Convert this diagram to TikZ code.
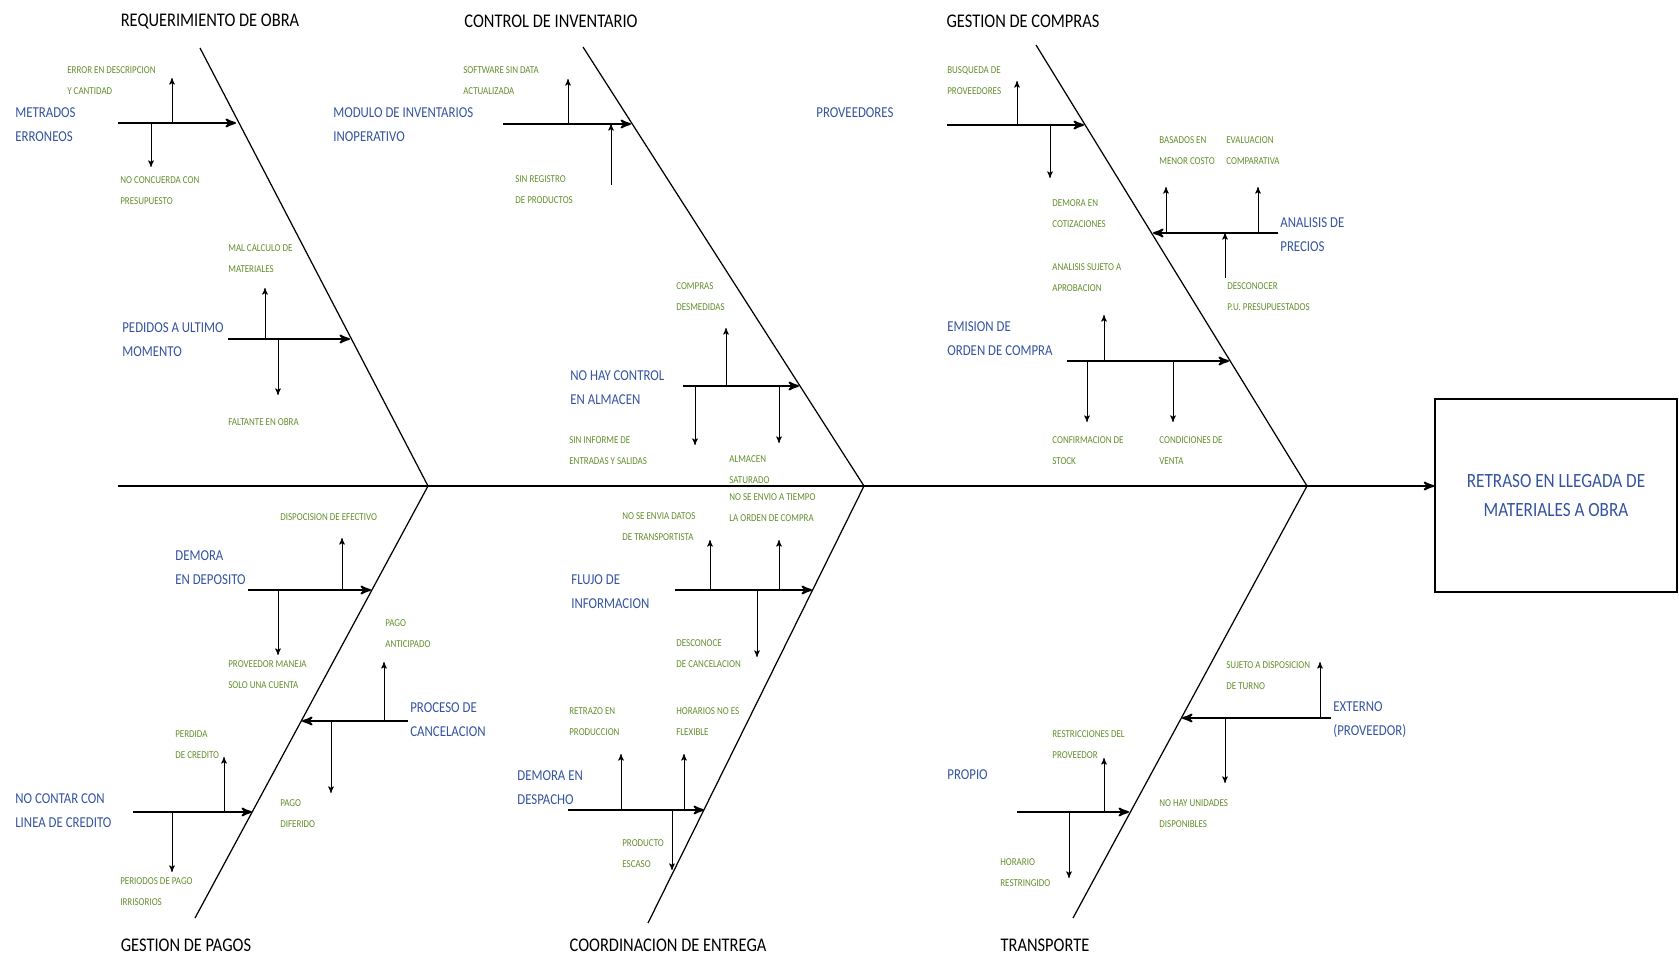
\documentclass[tikz,border=0pt]{standalone}
\usepackage{fontspec}
\setmainfont[FakeStretch=0.85]{Carlito}
\usetikzlibrary{arrows}
\definecolor{azulcausa}{RGB}{52,84,160}
\definecolor{verdesub}{RGB}{98,142,44}
\tikzset{
	etiq/.style = {inner sep=0pt, align=left, anchor=west},
	cat_t/.style = {etiq, anchor=center, align=center, black,
		font=\fontsize{11}{13}\selectfont},% categoria
	causa_t/.style = {etiq, azulcausa, font=\fontsize{8.6}{13.6}\selectfont},% causa, azul
	sub_t/.style = {etiq, verdesub, font=\fontsize{6}{12}\selectfont},% subcausa, verde
	caja/.style = {draw=black, line width=0.9pt, text=azulcausa, align=center,
		minimum width=4.84cm, minimum height=3.86cm,
		font=\fontsize{11.5}{17}\selectfont},% efecto
	espina/.style = {-, line width=0.7pt},
	rama/.style = {->, line width=1.1pt},
	flecha/.style = {->, line width=0.45pt}
}
% flecha de subcausa: nombre, x, y de la punta, rama
\newcommand{\subc}[4]{\coordinate (#1) at (#2,#3);
	\draw[flecha] (#1 |- #4) -- (#1);}
% flecha que sube hasta la rama
\newcommand{\subin}[4]{\coordinate (#1) at (#2,#3);
	\draw[flecha] (#1) -- (#1 |- #4);}

\begin{document}
\begin{tikzpicture}[x=0.02cm, y=-0.02cm, >=stealth']
	\useasboundingbox (0,0) rectangle (1679,959);
	% efecto
	\node[caja] (caja) at (1556,495.5) {RETRASO EN LLEGADA DE\\MATERIALES A OBRA};
	\coordinate (esp) at (118,486);
	\draw[rama] (esp) -- (esp -| caja.west);
	% espinas
	\coordinate (v1) at (428,486);
	\coordinate (v2) at (864,486);
	\coordinate (v3) at (1307,486);
	\coordinate (rq) at (200,48);
	\coordinate (ci) at (583,47);
	\coordinate (gc) at (1036,45);
	\coordinate (gp) at (195,918);
	\coordinate (ce) at (648,923);
	\coordinate (tr) at (1073,918);
	\draw[espina] (rq) -- (v1) -- (gp);
	\draw[espina] (ci) -- (v2) -- (ce);
	\draw[espina] (gc) -- (v3) -- (tr);
	\node[cat_t] (c_rq) at (210,22) {REQUERIMIENTO DE OBRA};
	\node[cat_t] (c_ci) at (551,21) {CONTROL DE INVENTARIO};
	\node[cat_t] (c_gc) at (1023,21) {GESTION DE COMPRAS};
	\node[cat_t] (c_gp) at (186,945) {GESTION DE PAGOS};
	\node[cat_t] (c_ce) at (668,945) {COORDINACION DE ENTREGA};
	\node[cat_t] (c_tr) at (1045,945) {TRANSPORTE};

	% requerimiento de obra
	\coordinate (r1) at (118,123); \coordinate (r1b) at (236,123);
	\draw[rama] (r1) -- (r1b);
	\node[causa_t] (t_r1) at (15,125) {METRADOS\\ERRONEOS};
	\subc{r1u}{172}{78}{r1} \subc{r1d}{151}{167}{r1}
	\node[sub_t] (s_r1u) at (67,80.5) {ERROR EN DESCRIPCION\\Y CANTIDAD};
	\node[sub_t] (s_r1d) at (120,190.5) {NO CONCUERDA CON\\PRESUPUESTO};
	\coordinate (r2) at (228,339); \coordinate (r2b) at (350,339);
	\draw[rama] (r2) -- (r2b);
	\node[causa_t] (t_r2) at (122,339.5) {PEDIDOS A ULTIMO\\MOMENTO};
	\subc{r2u}{265}{288}{r2} \subc{r2d}{278}{395}{r2}
	\node[sub_t] (s_r2u) at (228,258.5) {MAL CALCULO DE\\MATERIALES};
	\node[sub_t] (s_r2d) at (228,422) {FALTANTE EN OBRA};

	% control de inventario
	\coordinate (c1) at (503,124); \coordinate (c1b) at (631,124);
	\draw[rama] (c1) -- (c1b);
	\node[causa_t] (t_c1) at (333,125) {MODULO DE INVENTARIOS\\INOPERATIVO};
	\subc{c1u}{568}{79}{c1} \subin{c1d}{611}{185}{c1}
	\node[sub_t] (s_c1u) at (463,80.5) {SOFTWARE SIN DATA\\ACTUALIZADA};
	\node[sub_t] (s_c1d) at (515,190) {SIN REGISTRO\\DE PRODUCTOS};
	\coordinate (c2) at (683,386); \coordinate (c2b) at (799,386);
	\draw[rama] (c2) -- (c2b);
	\node[causa_t] (t_c2) at (570,388) {NO HAY CONTROL\\EN ALMACEN};
	\subc{c2u}{726}{328}{c2} \subc{c2d}{695}{445}{c2} \subc{c2e}{779}{443}{c2}
	\node[sub_t] (s_c2u) at (676,296.5) {COMPRAS\\DESMEDIDAS};
	\node[sub_t] (s_c2d) at (569,450.5) {SIN INFORME DE\\ENTRADAS Y SALIDAS};
	\node[sub_t] (s_c2e) at (729,470) {ALMACEN\\SATURADO};

	% gestion de compras
	\coordinate (g1) at (947,125); \coordinate (g1b) at (1084,125);
	\draw[rama] (g1) -- (g1b);
	\node[causa_t] (t_g1) at (816,113) {PROVEEDORES};
	\subc{g1u}{1017}{81}{g1} \subc{g1d}{1050}{178}{g1}
	\node[sub_t] (s_g1u) at (947,81) {BUSQUEDA DE\\PROVEEDORES};
	\node[sub_t] (s_g1d) at (1052,214) {DEMORA EN\\COTIZACIONES};
	\coordinate (g2) at (1278,233); \coordinate (g2b) at (1153,233);
	\draw[rama] (g2) -- (g2b);
	\node[causa_t] (t_g2) at (1280,235) {ANALISIS DE\\PRECIOS};
	\subc{g2u}{1166}{187}{g2} \subc{g2v}{1258}{187}{g2} \subin{g2d}{1225}{278}{g2}
	\node[sub_t] (s_g2u) at (1159,150.5) {BASADOS EN\\MENOR COSTO};
	\node[sub_t] (s_g2v) at (1226,150.5) {EVALUACION\\COMPARATIVA};
	\node[sub_t] (s_g2d) at (1227,297) {DESCONOCER\\P.U. PRESUPUESTADOS};
	\coordinate (g3) at (1067,361); \coordinate (g3b) at (1229,361);
	\draw[rama] (g3) -- (g3b);
	\node[causa_t] (t_g3) at (947,339) {EMISION DE\\ORDEN DE COMPRA};
	\subc{g3u}{1104}{315}{g3} \subc{g3d}{1087}{422}{g3} \subc{g3e}{1173}{422}{g3}
	\node[sub_t] (s_g3u) at (1052,278) {ANALISIS SUJETO A\\APROBACION};
	\node[sub_t] (s_g3d) at (1052,451) {CONFIRMACION DE\\STOCK};
	\node[sub_t] (s_g3e) at (1159,451) {CONDICIONES DE\\VENTA};

	% gestion de pagos
	\coordinate (p1) at (248,590); \coordinate (p1b) at (371,590);
	\draw[rama] (p1) -- (p1b);
	\node[causa_t] (t_p1) at (175,568) {DEMORA\\EN DEPOSITO};
	\subc{p1u}{342}{538}{p1} \subc{p1d}{278}{655}{p1}
	\node[sub_t] (s_p1u) at (280,517) {DISPOCISION DE EFECTIVO};
	\node[sub_t] (s_p1d) at (228,675) {PROVEEDOR MANEJA\\SOLO UNA CUENTA};
	\coordinate (p2) at (408,721); \coordinate (p2b) at (302,721);
	\draw[rama] (p2) -- (p2b);
	\node[causa_t] (t_p2) at (410,720) {PROCESO DE\\CANCELACION};
	\subc{p2u}{384}{662}{p2} \subc{p2d}{331}{793}{p2}
	\node[sub_t] (s_p2u) at (385,634) {PAGO\\ANTICIPADO};
	\node[sub_t] (s_p2d) at (280,814) {PAGO\\DIFERIDO};
	\coordinate (p3) at (133,812); \coordinate (p3b) at (252,812);
	\draw[rama] (p3) -- (p3b);
	\node[causa_t] (t_p3) at (15,811) {NO CONTAR CON\\LINEA DE CREDITO};
	\subc{p3u}{224}{757}{p3} \subc{p3d}{172}{872}{p3}
	\node[sub_t] (s_p3u) at (175,744.5) {PERDIDA\\DE CREDITO};
	\node[sub_t] (s_p3d) at (120,892) {PERIODOS DE PAGO\\IRRISORIOS};

	% coordinacion de entrega
	\coordinate (e1) at (675,590); \coordinate (e1b) at (812,590);
	\draw[rama] (e1) -- (e1b);
	\node[causa_t] (t_e1) at (571,592) {FLUJO DE\\INFORMACION};
	\subc{e1u}{710}{540}{e1} \subc{e1v}{779}{540}{e1} \subc{e1d}{757}{657}{e1}
	\node[sub_t] (s_e1u) at (622,527) {NO SE ENVIA DATOS\\DE TRANSPORTISTA};
	\node[sub_t] (s_e1v) at (729,507.5) {NO SE ENVIO A TIEMPO\\LA ORDEN DE COMPRA};
	\node[sub_t] (s_e1d) at (676,654) {DESCONOCE\\DE CANCELACION};
	\coordinate (e2) at (568,810); \coordinate (e2b) at (704,810);
	\draw[rama] (e2) -- (e2b);
	\node[causa_t] (t_e2) at (517,788) {DEMORA EN\\DESPACHO};
	\subc{e2u}{621}{754}{e2} \subc{e2v}{684}{754}{e2} \subc{e2d}{672}{870}{e2}
	\node[sub_t] (s_e2u) at (569,722) {RETRAZO EN\\PRODUCCION};
	\node[sub_t] (s_e2v) at (676,722) {HORARIOS NO ES\\FLEXIBLE};
	\node[sub_t] (s_e2d) at (622,853.5) {PRODUCTO\\ESCASO};

	% transporte
	\coordinate (t1) at (1331,718); \coordinate (t1b) at (1182,718);
	\draw[rama] (t1) -- (t1b);
	\node[causa_t] (t_t1) at (1333,720) {EXTERNO\\(PROVEEDOR)};
	\subc{t1u}{1320}{662}{t1} \subc{t1d}{1225}{783}{t1}
	\node[sub_t] (s_t1u) at (1226,675.5) {SUJETO A DISPOSICION\\DE TURNO};
	\node[sub_t] (s_t1d) at (1159,813.5) {NO HAY UNIDADES\\DISPONIBLES};
	\coordinate (t2) at (1017,812); \coordinate (t2b) at (1129,812);
	\draw[rama] (t2) -- (t2b);
	\node[causa_t] (t_t2) at (947,775) {PROPIO};
	\subc{t2u}{1104}{758}{t2} \subc{t2d}{1069}{878}{t2}
	\node[sub_t] (s_t2u) at (1052,744.5) {RESTRICCIONES DEL\\PROVEEDOR};
	\node[sub_t] (s_t2d) at (1000,872.5) {HORARIO\\RESTRINGIDO};
\end{tikzpicture}
\end{document}
